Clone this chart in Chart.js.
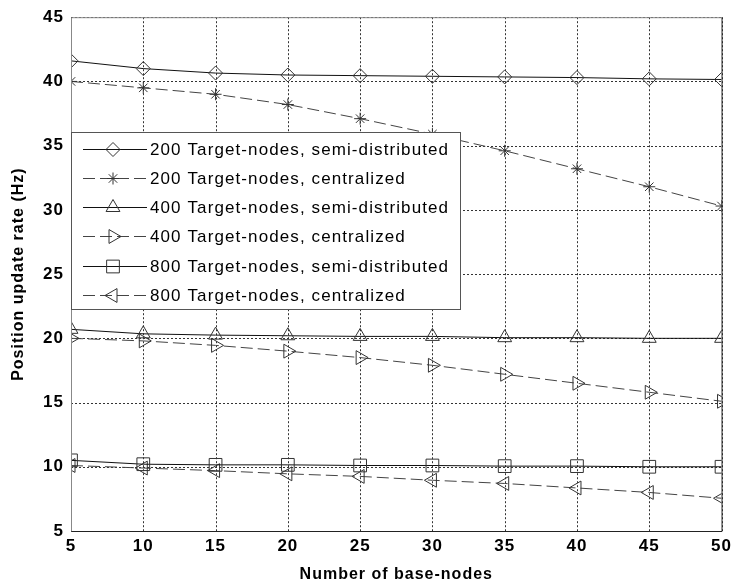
<!DOCTYPE html>
<html>
<head>
<meta charset="utf-8">
<script src="https://cdn.jsdelivr.net/npm/chart.js@4.4.0/dist/chart.umd.min.js"></script>
<style>
  html, body { margin: 0; padding: 0; background: #fff; }
</style>
</head>
<body>
<canvas id="myChart" width="736" height="586"></canvas>
<script>
const baseNodes = [5, 10, 15, 20, 25, 30, 35, 40, 45, 50];

const semi200 = [41.6, 41.0, 40.65, 40.5, 40.45, 40.4, 40.35, 40.3, 40.2, 40.15];
const cent200 = [40.0, 39.5, 39.0, 38.2, 37.1, 35.9, 34.6, 33.2, 31.8, 30.3];
const semi400 = [20.7, 20.35, 20.25, 20.2, 20.15, 20.15, 20.05, 20.05, 20.0, 20.0];
const cent400 = [20.0, 19.8, 19.45, 19.0, 18.5, 17.9, 17.2, 16.5, 15.8, 15.1];
const semi800 = [10.5, 10.2, 10.15, 10.15, 10.1, 10.1, 10.05, 10.05, 10.0, 10.0];
const cent800 = [10.1, 9.9, 9.7, 9.45, 9.25, 8.95, 8.7, 8.35, 8.0, 7.55];

const seriesLabels = [
  '200 Target-nodes, semi-distributed',
  '200 Target-nodes, centralized',
  '400 Target-nodes, semi-distributed',
  '400 Target-nodes, centralized',
  '800 Target-nodes, semi-distributed',
  '800 Target-nodes, centralized'
];

const xTicks = [5, 10, 15, 20, 25, 30, 35, 40, 45, 50];
const yTicks = [5, 10, 15, 20, 25, 30, 35, 40, 45];

const FONT = '"Liberation Sans", Arial, sans-serif';
const solid = [];
const dashed = [12, 5];

function pts(values) {
  return baseNodes.map((x, i) => ({x: x, y: values[i]}));
}

function series(label, values, style, rotation, radius, dash, color) {
  return {
    label: label,
    data: pts(values),
    borderColor: color,
    borderWidth: 1,
    borderDash: dash,
    pointStyle: style,
    pointRotation: rotation,
    pointRadius: radius,
    pointBorderColor: '#333',
    pointBackgroundColor: 'rgba(0,0,0,0)',
    pointBorderWidth: 1,
    fill: false,
    tension: 0
  };
}

// dotted grid at every tick, under the lines
const gridPlugin = {
  id: 'dottedGrid',
  beforeDraw(chart) {
    chart.ctx.letterSpacing = '1px';
  },
  beforeDatasetsDraw(chart) {
    const {ctx, chartArea: a, scales} = chart;
    ctx.save();
    ctx.strokeStyle = '#333';
    ctx.lineWidth = 1;
    ctx.setLineDash([2, 2]);
    xTicks.forEach(v => {
      const px = Math.round(scales.x.getPixelForValue(v)) + 0.5;
      ctx.beginPath();
      ctx.moveTo(px, a.top);
      ctx.lineTo(px, a.bottom);
      ctx.stroke();
    });
    yTicks.forEach(v => {
      const py = Math.round(scales.y.getPixelForValue(v)) + 0.5;
      ctx.beginPath();
      ctx.moveTo(a.left, py);
      ctx.lineTo(a.right, py);
      ctx.stroke();
    });
    ctx.restore();
  }
};

// box around the axes plus legend panel inside the plot
const framePlugin = {
  id: 'frame',
  afterDatasetsDraw(chart) {
    const {ctx, chartArea: a} = chart;
    ctx.save();
    ctx.lineWidth = 1;
    ctx.strokeStyle = '#888';
    ctx.beginPath();
    ctx.moveTo(a.left + 0.5, a.bottom + 0.5);
    ctx.lineTo(a.left + 0.5, a.top + 0.5);
    ctx.lineTo(a.right + 0.5, a.top + 0.5);
    ctx.stroke();
    ctx.strokeStyle = '#222';
    ctx.beginPath();
    ctx.moveTo(a.right + 0.5, a.top + 0.5);
    ctx.lineTo(a.right + 0.5, a.bottom + 0.5);
    ctx.lineTo(a.left + 0.5, a.bottom + 0.5);
    ctx.stroke();

    // legend
    const lx = a.left, ly = 132, lw = 389, lh = 177;
    ctx.fillStyle = '#fff';
    ctx.fillRect(lx, ly, lw, lh);
    ctx.strokeStyle = '#555';
    ctx.strokeRect(lx + 0.5, ly + 0.5, lw, lh);

    ctx.font = '17px ' + FONT;
    ctx.letterSpacing = '1.1px';
    ctx.textBaseline = 'middle';
    ctx.textAlign = 'left';
    chart.data.datasets.forEach((ds, i) => {
      const y = Math.round(ly + 16.5 + i * 29.3) + 0.5;
      ctx.save();
      ctx.strokeStyle = ds.borderColor;
      ctx.lineWidth = 1;
      ctx.setLineDash(ds.borderDash);
      ctx.beginPath();
      ctx.moveTo(lx + 12, y);
      ctx.lineTo(lx + 76, y);
      ctx.stroke();
      ctx.restore();
      ctx.save();
      ctx.strokeStyle = '#333';
      ctx.fillStyle = 'rgba(0,0,0,0)';
      ctx.lineWidth = 1;
      Chart.helpers.drawPoint(ctx, {
        pointStyle: ds.pointStyle,
        rotation: ds.pointRotation,
        radius: ds.pointRadius,
        borderWidth: 1
      }, lx + 42, y);
      ctx.restore();
      ctx.fillStyle = '#000';
      ctx.fillText(ds.label, lx + 79, y + 1);
    });
    ctx.restore();
  }
};

const ctx = document.getElementById('myChart').getContext('2d');
const myChart = new Chart(ctx, {
  type: 'line',
  data: {
    datasets: [
      series(seriesLabels[0], semi200, 'rectRot', 0, 7, solid, '#111'),
      series(seriesLabels[1], cent200, 'star', 0, 6, dashed, '#444'),
      series(seriesLabels[2], semi400, 'triangle', 0, 8, solid, '#111'),
      series(seriesLabels[3], cent400, 'triangle', 90, 8, dashed, '#444'),
      series(seriesLabels[4], semi800, 'rect', 0, 9, solid, '#111'),
      series(seriesLabels[5], cent800, 'triangle', -90, 8, dashed, '#444')
    ]
  },
  options: {
    responsive: false,
    animation: false,
    events: [],
    layout: {padding: {top: 15, right: 12, left: 0, bottom: 0}},
    plugins: {
      legend: {display: false},
      tooltip: {enabled: false}
    },
    scales: {
      x: {
        type: 'linear',
        min: 5,
        max: 50,
        afterBuildTicks(axis) { axis.ticks = xTicks.map(v => ({value: v})); },
        afterFit(axis) { axis.height = 55; },
        ticks: {
          color: '#000',
          padding: 5,
          maxRotation: 0,
          font: {family: FONT, size: 17, weight: 'bold'}
        },
        grid: {display: false, drawTicks: false},
        border: {display: false},
        title: {
          display: true,
          text: 'Number of base-nodes',
          color: '#000',
          padding: {top: 0, bottom: 2},
          font: {family: FONT, size: 16, weight: 'bold'}
        }
      },
      y: {
        min: 5,
        max: 45,
        afterBuildTicks(axis) { axis.ticks = yTicks.map(v => ({value: v})); },
        afterFit(axis) { axis.width = 71; },
        ticks: {
          color: '#000',
          padding: 7,
          font: {family: FONT, size: 17, weight: 'bold'}
        },
        grid: {display: false, drawTicks: false},
        border: {display: false},
        title: {
          display: true,
          text: 'Position update rate (Hz)',
          color: '#000',
          padding: {top: 9, bottom: 0},
          font: {family: FONT, size: 16, weight: 'bold'}
        }
      }
    }
  },
  plugins: [gridPlugin, framePlugin]
});
</script>
</body>
</html>
